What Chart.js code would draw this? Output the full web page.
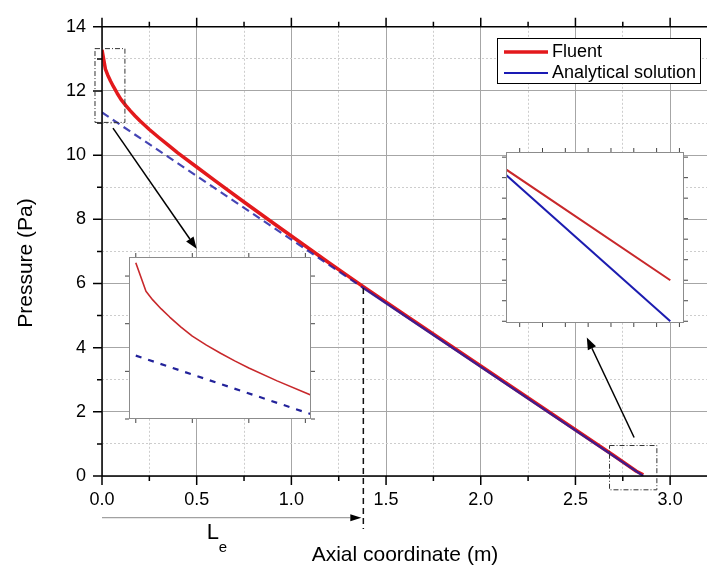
<!DOCTYPE html>
<html><head><meta charset="utf-8">
<script src="https://cdn.jsdelivr.net/npm/chart.js@4.4.1/dist/chart.umd.min.js"></script>
<style>
html,body{margin:0;padding:0;background:#fff;overflow:hidden;width:707px;height:570px}
#wrap{position:absolute;left:0;top:0;width:710px;height:570px}
.inset{position:absolute}
</style></head><body>
<div id="wrap"><canvas id="main"></canvas></div>
<div class="inset" id="w1" style="left:121px;top:249px;width:198px;height:178px"><canvas id="in1"></canvas></div>
<div class="inset" id="w2" style="left:498px;top:144px;width:194px;height:187px"><canvas id="in2"></canvas></div>
<script>
// ---------- data ----------
const seriesNames = ['Fluent', 'Analytical solution'];
const fluentX = [0, 0.018, 0.03, 0.045, 0.06, 0.08, 0.1, 0.125, 0.15, 0.175, 0.2, 0.25, 0.3, 0.35, 0.4, 0.5, 0.6, 0.75, 0.9, 1.0, 1.1, 1.2, 1.3, 1.38, 1.6, 2.0, 2.4, 2.7, 2.822, 2.858];
const fluentP = [13.28, 12.68, 12.50, 12.31, 12.14, 11.93, 11.74, 11.55, 11.38, 11.22, 11.07, 10.80, 10.55, 10.31, 10.07, 9.63, 9.19, 8.54, 7.90, 7.48, 7.06, 6.64, 6.23, 5.90, 5.02, 3.43, 1.84, 0.645, 0.148, 0.04];
const analyticX = [0, 1.38, 2.858];
const analyticP = [11.33, 5.86, 0];
const Le = 1.38;
const xTickValues = [0, 0.25, 0.5, 0.75, 1.0, 1.25, 1.5, 1.75, 2.0, 2.25, 2.5, 2.75, 3.0];
const yTickValues = [0, 1, 2, 3, 4, 5, 6, 7, 8, 9, 10, 11, 12, 13, 14];
const xMajorStep = 0.5, yMajorStep = 2;
const xRange = [0, 3.2], yRange = [0, 14];
// zoom windows (data units)
const zoomLeft = {x: [-0.037, 0.121], y: [11.02, 13.32]};
const zoomRight = {x: [2.68, 2.93], y: [-0.43, 0.95]};
const insetLeftRange = {x: [-0.012, 0.31], y: [10.0, 13.4]};
const insetRightRange = {x: [2.822, 2.861], y: [-0.0017, 0.165]};
const insetLeftTicksX = [0, 0.1, 0.2, 0.3];
const insetLeftTicksY = [10, 11, 12, 13];
const insetRightTicksX = [2.825, 2.83, 2.835, 2.84, 2.845, 2.85, 2.855, 2.86];
const insetRightTicksY = [0, 0.02, 0.04, 0.06, 0.08, 0.1, 0.12, 0.14, 0.16];
// annotation anchors (data units)
const arrowLeft = {from: [0.058, 10.84], to: [0.5, 7.08]};
const arrowRight = {from: [2.81, 1.2], to: [2.56, 4.32]};
const leArrowY = -1.30, leLineBottom = -1.65, leLabel = {x: 0.553, y: -1.96};

const F = '"Liberation Sans", Arial, sans-serif';
const RED = '#e3191c';
const BLUE = 'rgba(28,28,165,0.82)';
const isMajor = (v, s) => Math.abs(v / s - Math.round(v / s)) < 1e-6;
const pts = (xs, ys) => xs.map((x, i) => ({x, y: ys[i]}));

function arrow(ctx, x1, y1, x2, y2, len, hw, lineColor, headColor, lw) {
  const ang = Math.atan2(y2 - y1, x2 - x1);
  const bx = x2 - len * Math.cos(ang), by = y2 - len * Math.sin(ang);
  ctx.strokeStyle = lineColor; ctx.lineWidth = lw; ctx.setLineDash([]);
  ctx.beginPath(); ctx.moveTo(x1, y1); ctx.lineTo(bx, by); ctx.stroke();
  ctx.fillStyle = headColor;
  ctx.beginPath();
  ctx.moveTo(x2, y2);
  ctx.lineTo(bx + hw * Math.sin(ang), by - hw * Math.cos(ang));
  ctx.lineTo(bx - hw * Math.sin(ang), by + hw * Math.cos(ang));
  ctx.closePath(); ctx.fill();
}

const mainPlugin = {
  id: 'mainDecor',
  afterDraw(chart) {
    const {ctx, chartArea: a, scales: {x, y}} = chart;
    ctx.save();
    // axes
    ctx.strokeStyle = '#000'; ctx.lineWidth = 1.5; ctx.setLineDash([]);
    ctx.beginPath();
    ctx.moveTo(a.left, a.top); ctx.lineTo(a.left, a.bottom);
    ctx.moveTo(a.left - 0.75, a.bottom); ctx.lineTo(a.right, a.bottom);
    ctx.moveTo(a.left - 0.75, a.top); ctx.lineTo(a.right, a.top);
    xTickValues.forEach(v => {
      const p = x.getPixelForValue(v), L = isMajor(v, xMajorStep) ? 9 : 5;
      ctx.moveTo(p, a.bottom); ctx.lineTo(p, a.bottom + L);
      ctx.moveTo(p, a.top); ctx.lineTo(p, a.top - L);
    });
    yTickValues.forEach(v => {
      const p = y.getPixelForValue(v), L = isMajor(v, yMajorStep) ? 9 : 5;
      ctx.moveTo(a.left, p); ctx.lineTo(a.left - L, p);
    });
    ctx.stroke();
    // y title
    ctx.save();
    ctx.translate(26, 263); ctx.rotate(-Math.PI / 2);
    ctx.fillStyle = '#000'; ctx.font = '21px ' + F; ctx.textAlign = 'center'; ctx.textBaseline = 'middle';
    ctx.fillText('Pressure (Pa)', 0, 0);
    ctx.restore();
    // zoom rectangles
    ctx.strokeStyle = '#333'; ctx.lineWidth = 1; ctx.setLineDash([5, 2, 1, 2]);
    [zoomLeft, zoomRight].forEach(z => {
      const x1 = x.getPixelForValue(z.x[0]), x2 = x.getPixelForValue(z.x[1]);
      const y1 = y.getPixelForValue(z.y[1]), y2 = y.getPixelForValue(z.y[0]);
      ctx.strokeRect(x1, y1, x2 - x1, y2 - y1);
    });
    // arrows to insets
    [arrowLeft, arrowRight].forEach(ar => {
      arrow(ctx, x.getPixelForValue(ar.from[0]), y.getPixelForValue(ar.from[1]),
        x.getPixelForValue(ar.to[0]), y.getPixelForValue(ar.to[1]), 12, 4.5, '#000', '#000', 1.5);
    });
    // Le annotation
    const pLe = x.getPixelForValue(Le);
    ctx.strokeStyle = '#111'; ctx.lineWidth = 1.5; ctx.setLineDash([6, 4]);
    ctx.beginPath();
    ctx.moveTo(pLe, y.getPixelForValue(analyticP[1])); ctx.lineTo(pLe, y.getPixelForValue(leLineBottom));
    ctx.stroke();
    const ay = y.getPixelForValue(leArrowY);
    arrow(ctx, x.getPixelForValue(0), ay, pLe - 2, ay, 11, 3.5, '#8a8a8a', '#000', 1);
    ctx.fillStyle = '#000'; ctx.textAlign = 'left'; ctx.textBaseline = 'alphabetic';
    const lx = x.getPixelForValue(leLabel.x), ly = y.getPixelForValue(leLabel.y);
    ctx.font = '22px ' + F; ctx.fillText('L', lx, ly);
    ctx.font = '15px ' + F; ctx.fillText('e', lx + 12, ly + 13);
    // legend
    ctx.setLineDash([]);
    ctx.fillStyle = '#fff'; ctx.fillRect(497, 38, 204, 45);
    ctx.strokeStyle = '#000'; ctx.lineWidth = 1; ctx.strokeRect(497.5, 38.5, 203, 45);
    ctx.lineWidth = 3.5; ctx.strokeStyle = RED;
    ctx.beginPath(); ctx.moveTo(504, 52); ctx.lineTo(548, 52); ctx.stroke();
    ctx.lineWidth = 2; ctx.strokeStyle = '#1a1ab4';
    ctx.beginPath(); ctx.moveTo(504, 73); ctx.lineTo(548, 73); ctx.stroke();
    ctx.fillStyle = '#000'; ctx.font = '18px ' + F; ctx.textBaseline = 'middle';
    ctx.fillText(seriesNames[0], 552, 52);
    ctx.fillText(seriesNames[1], 552, 73);
    ctx.restore();
  }
};

function datasets(redW, blueW, dash, blueColor, redColor) {
  return [
    {label: seriesNames[0], data: pts(fluentX, fluentP), borderColor: redColor, borderWidth: redW,
      pointRadius: 0, tension: 0, order: 2, fill: false, borderJoinStyle: 'round'},
    {label: seriesNames[1], data: pts(analyticX, analyticP), borderColor: blueColor, borderWidth: blueW,
      pointRadius: 0, tension: 0, order: 1, fill: false,
      segment: {borderDash: c => (c.p1.parsed.x <= Le + 1e-9 ? dash : undefined)}}
  ];
}

new Chart(document.getElementById('main'), {
  type: 'line',
  data: {datasets: datasets(3.5, 2.2, [8, 5], BLUE, RED)},
  options: {
    responsive: true, maintainAspectRatio: false, animation: false,
    layout: {padding: {top: 19, right: 2, bottom: 0, left: 0}},
    plugins: {legend: {display: false}, tooltip: {enabled: false}},
    scales: {
      x: {type: 'linear', min: xRange[0], max: xRange[1],
        afterBuildTicks: s => { s.ticks = xTickValues.map(v => ({value: v})); },
        afterFit: s => { s.height = 94; },
        grid: {color: c => (c.tick && isMajor(c.tick.value, xMajorStep)) ? '#a6a6a6' : '#cdcdcd', lineWidth: 1, drawTicks: false},
        border: {display: false, dash: c => (c.tick && !isMajor(c.tick.value, xMajorStep)) ? [2, 2] : []},
        ticks: {autoSkip: false, maxRotation: 0, padding: 13, color: '#000', font: {family: F, size: 18},
          callback: v => isMajor(v, xMajorStep) ? v.toFixed(1) : ''},
        title: {display: true, text: 'Axial coordinate (m)', color: '#000', font: {family: F, size: 21}, padding: {top: 0, bottom: 2}}
      },
      y: {type: 'linear', min: yRange[0], max: yRange[1],
        afterBuildTicks: s => { s.ticks = yTickValues.map(v => ({value: v})); },
        afterFit: s => { s.width = 102; },
        grid: {color: c => (c.tick && isMajor(c.tick.value, yMajorStep)) ? '#a6a6a6' : '#cdcdcd', lineWidth: 1, drawTicks: false},
        border: {display: false, dash: c => (c.tick && !isMajor(c.tick.value, yMajorStep)) ? [2, 2] : []},
        ticks: {autoSkip: false, padding: 16, color: '#000', font: {family: F, size: 18},
          callback: v => isMajor(v, yMajorStep) ? String(v) : ''}
      }
    }
  },
  plugins: [mainPlugin]
});

function insetPlugin(tx, ty) {
  return {
    id: 'insetFrame',
    beforeDatasetsDraw(chart) {
      const {ctx, chartArea: a} = chart;
      ctx.save(); ctx.fillStyle = '#fff';
      ctx.fillRect(a.left, a.top, a.right - a.left, a.bottom - a.top); ctx.restore();
    },
    afterDraw(chart) {
      const {ctx, chartArea: a, scales: {x, y}} = chart;
      ctx.save();
      ctx.strokeStyle = '#8c8c8c'; ctx.lineWidth = 1;
      ctx.strokeRect(a.left + 0.5, a.top + 0.5, a.right - a.left - 1, a.bottom - a.top - 1);
      ctx.strokeStyle = '#444'; ctx.beginPath();
      tx.forEach(v => { const p = x.getPixelForValue(v);
        ctx.moveTo(p, a.bottom); ctx.lineTo(p, a.bottom + 4); ctx.moveTo(p, a.top); ctx.lineTo(p, a.top - 4); });
      ty.forEach(v => { const p = y.getPixelForValue(v);
        ctx.moveTo(a.left, p); ctx.lineTo(a.left - 4, p); ctx.moveTo(a.right, p); ctx.lineTo(a.right + 4, p); });
      ctx.stroke(); ctx.restore();
    }
  };
}

function makeInset(id, range, tx, ty, redW, blueW, dash, redColor, blueColor) {
  const ds = datasets(redW, blueW, dash, blueColor, redColor);
  ds.forEach(d => { d.clip = 0; });
  new Chart(document.getElementById(id), {
    type: 'line',
    data: {datasets: ds},
    options: {
      responsive: true, maintainAspectRatio: false, animation: false,
      layout: {padding: 8},
      plugins: {legend: {display: false}, tooltip: {enabled: false}},
      scales: {
        x: {type: 'linear', display: false, min: range.x[0], max: range.x[1]},
        y: {type: 'linear', display: false, min: range.y[0], max: range.y[1]}
      }
    },
    plugins: [insetPlugin(tx, ty)]
  });
}
makeInset('in1', insetLeftRange, insetLeftTicksX, insetLeftTicksY, 1.6, 2.2, [6, 7], '#c8282b', '#22229a');
makeInset('in2', insetRightRange, insetRightTicksX, insetRightTicksY, 2, 2, [6, 6], '#c8282b', '#1c1cb0');
</script>
</body></html>
